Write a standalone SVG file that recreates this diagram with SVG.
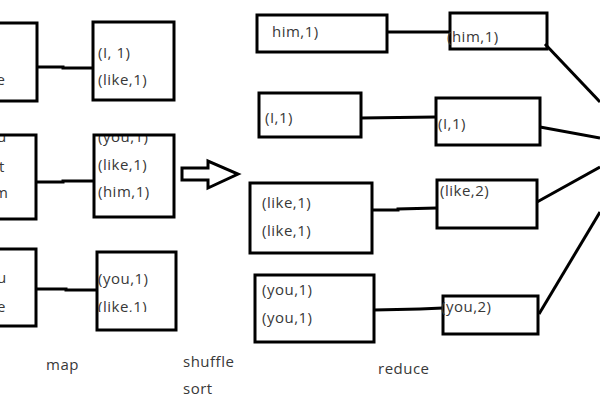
<svg xmlns="http://www.w3.org/2000/svg" width="600" height="400" viewBox="0 0 600 400">
<style>
.box{fill:none;stroke:#000;stroke-width:3}
.bg{fill:#fff;stroke:none}
.t{font-family:"Open Sans","Liberation Sans",sans-serif;font-size:15px;letter-spacing:0.5px;fill:#383838}
.c{fill:none;stroke:#000;stroke-width:3;stroke-linecap:butt}
</style>
<defs>
<clipPath id="clipM2"><rect x="94" y="135" width="80" height="82"/></clipPath>
<clipPath id="clipM3"><rect x="98" y="252" width="78" height="60"/></clipPath>
</defs>
<rect x="0" y="0" width="600" height="400" fill="#fff"/>

<g id="connectors">
<polyline class="c" points="37,67 63,67 63,68 93,68"/>
<polyline class="c" points="36,182 63,182 63,181 94,181"/>
<polyline class="c" points="36,289 66,289 66,290 97,290"/>
<line class="c" x1="387" y1="32" x2="450" y2="32"/>
<line class="c" x1="361" y1="118" x2="436" y2="117"/>
<polyline class="c" points="372,210 398,210 398,209 437,208"/>
<polyline class="c" points="374,310 420,309 443,308"/>
<line class="c" x1="545" y1="44" x2="600" y2="102"/>
<line class="c" x1="540" y1="127" x2="600" y2="138"/>
<line class="c" x1="537" y1="202" x2="600" y2="167"/>
<line class="c" x1="539" y1="314" x2="600" y2="212"/>
</g>

<g id="in1">
<text class="t" x="-3.5" y="85">e</text>
<rect class="box" x="-10" y="23" width="47" height="78"/>
</g>
<g id="in2">
<text class="t" x="-3" y="142">u</text>
<text class="t" x="-1" y="172">t</text>
<text class="t" x="-6" y="198">m</text>
<rect class="box" x="-10" y="135" width="46" height="84"/>
</g>
<g id="in3">
<text class="t" x="-3" y="283">u</text>
<text class="t" x="-3" y="312">e</text>
<rect class="box" x="-10" y="249" width="46" height="77"/>
</g>

<g id="map1">
<rect class="box" x="93" y="22" width="81" height="78"/>
<text class="t" x="98" y="58">(I, 1)</text>
<text class="t" x="98" y="85">(like,1)</text>
</g>
<g id="map2">
<g clip-path="url(#clipM2)">
<text class="t" x="98" y="142">(you,1)</text>
<text class="t" x="98" y="170">(like,1)</text>
<text class="t" x="98" y="197">(him,1)</text>
</g>
<rect class="box" x="94" y="135" width="80" height="82"/>
</g>
<g id="map3">
<g clip-path="url(#clipM3)">
<text class="t" x="98" y="284">(you,1)</text>
<text class="t" x="98" y="312">(like,1)</text>
</g>
<rect class="box" x="97" y="252" width="79" height="78"/>
</g>

<g id="shuffle-arrow">
<polygon points="182,168 208,168 208,161 238,174 208,188 208,180 182,180" fill="#fff" stroke="#000" stroke-width="3" stroke-linejoin="miter"/>
</g>

<g id="s1">
<rect class="box" x="257" y="15" width="130" height="37"/>
<text class="t" x="272" y="37">him,1)</text>
</g>
<g id="s2">
<rect class="box" x="259" y="93" width="102" height="44"/>
<text class="t" x="265" y="123">(I,1)</text>
</g>
<g id="s3">
<rect class="box" x="250" y="183" width="122" height="70"/>
<text class="t" x="262" y="208">(like,1)</text>
<text class="t" x="262" y="236">(like,1)</text>
</g>
<g id="s4">
<rect class="box" x="255" y="275" width="119" height="67"/>
<text class="t" x="262" y="295">(you,1)</text>
<text class="t" x="262" y="323">(you,1)</text>
</g>

<g id="r1">
<rect class="box" x="450" y="13" width="97" height="36"/>
<text class="t" x="447" y="42">(him,1)</text>
</g>
<g id="r2">
<rect class="box" x="436" y="98" width="104" height="47"/>
<text class="t" x="438" y="129">(I,1)</text>
</g>
<g id="r3">
<rect class="box" x="437" y="180" width="100" height="48"/>
<text class="t" x="440" y="196">(like,2)</text>
</g>
<g id="r4">
<rect class="box" x="443" y="296" width="95" height="38"/>
<text class="t" x="441" y="312">(you,2)</text>
</g>

<g id="labels">
<text class="t" x="46" y="370">map</text>
<text class="t" x="183" y="367">shuffle</text>
<text class="t" x="183" y="394">sort</text>
<text class="t" x="378" y="374">reduce</text>
</g>
</svg>
